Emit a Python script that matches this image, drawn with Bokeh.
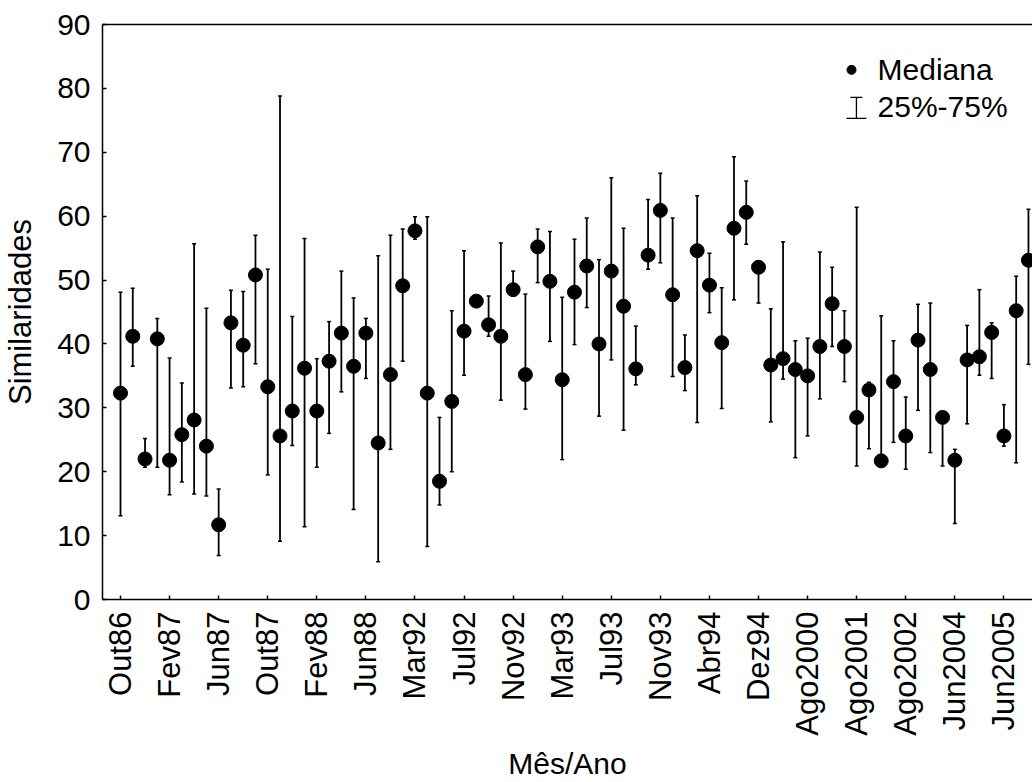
from bokeh.plotting import figure
from bokeh.models import (ColumnDataSource, Whisker, TeeHead, FixedTicker,
                          LinearAxis, Label, Range1d)
from bokeh.embed import file_html
from bokeh.resources import INLINE

# ---------------- data ----------------
tick_labels = ["Out86", "Fev87", "Jun87", "Out87", "Fev88", "Jun88", "Mar92",
               "Jul92", "Nov92", "Mar93", "Jul93", "Nov93", "Abr94", "Dez94",
               "Ago2000", "Ago2001", "Ago2002", "Jun2004", "Jun2005"]
tick_every = 4

median = [32.3, 41.2, 22.0, 40.8, 21.8, 25.8, 28.1, 24.0, 11.7, 43.3,
          39.8, 50.8, 33.3, 25.6, 29.5, 36.2, 29.5, 37.3, 41.7, 36.5,
          41.7, 24.5, 35.2, 49.1, 57.7, 32.3, 18.5, 31.0, 42.0, 46.7,
          43.0, 41.2, 48.5, 35.2, 55.2, 49.8, 34.4, 48.1, 52.2, 40.0,
          51.4, 45.9, 36.1, 53.9, 60.9, 47.7, 36.3, 54.6, 49.2, 40.2,
          58.1, 60.6, 52.0, 36.7, 37.7, 36.0, 35.0, 39.6, 46.3, 39.6,
          28.5, 32.8, 21.7, 34.1, 25.6, 40.6, 36.0, 28.5, 21.8, 37.5,
          38.0, 41.8, 25.6, 45.2, 53.1]
q25 = [13.1, 36.5, 20.7, 20.7, 16.4, 18.4, 16.5, 16.2, 6.9, 33.1,
       33.3, 36.9, 19.5, 9.1, 24.1, 11.4, 20.7, 26.0, 32.5, 14.1,
       34.6, 5.9, 23.5, 37.3, 56.4, 8.3, 14.8, 20.0, 35.1, 46.2,
       41.2, 31.2, 47.5, 29.8, 49.6, 40.4, 21.9, 39.9, 45.7, 28.7,
       37.5, 26.5, 33.6, 51.7, 52.7, 34.9, 32.7, 27.7, 44.9, 29.9,
       46.9, 55.6, 46.4, 27.8, 34.5, 22.2, 25.6, 31.4, 39.6, 34.1,
       20.9, 23.6, 21.3, 24.6, 20.4, 29.6, 23.0, 20.9, 11.9, 27.5,
       35.1, 34.6, 24.0, 21.4, 36.8]
q75 = [48.1, 48.7, 25.2, 44.0, 37.8, 33.9, 55.7, 45.6, 17.3, 48.4,
       48.2, 57.0, 51.7, 78.8, 44.3, 56.5, 37.7, 43.5, 51.4, 47.2,
       44.0, 53.8, 57.0, 58.0, 59.9, 59.9, 28.5, 45.2, 54.6, 47.2,
       47.5, 55.8, 51.4, 47.8, 58.0, 57.6, 47.3, 56.4, 59.7, 53.2,
       66.0, 58.1, 42.8, 62.6, 66.7, 59.7, 41.4, 63.2, 54.2, 48.8,
       69.3, 65.5, 52.5, 45.5, 56.0, 40.5, 40.9, 54.4, 52.0, 45.2,
       61.4, 34.0, 44.4, 40.5, 31.7, 46.2, 46.4, 29.0, 23.5, 42.9,
       48.5, 43.3, 30.5, 50.6, 61.1]
idx = list(range(len(median)))

FONT = "Liberation Sans"

src = ColumnDataSource(dict(x=idx, med=median, lo=q25, hi=q75))

p = figure(width=1032, height=782, output_backend="svg", toolbar_location=None,
           x_range=Range1d(-1.467, 74.33), y_range=Range1d(0, 90),
           min_border_left=102, min_border_right=0, min_border_top=24,
           min_border_bottom=0)
p.outline_line_color = None
p.grid.visible = False
p.background_fill_color = "white"
p.border_fill_color = "white"

# error bars (25%-75%)
wh = Whisker(source=src, base="x", lower="lo", upper="hi",
             line_color="black", line_width=1.8,
             upper_head=TeeHead(size=4, line_color="black", line_width=1.5),
             lower_head=TeeHead(size=4, line_color="black", line_width=1.5),
             level="glyph")
p.add_layout(wh)
# medians
p.scatter("x", "med", source=src, size=14, color="black")

# axes
xa = p.xaxis[0]
xa.ticker = FixedTicker(ticks=[i * tick_every for i in range(len(tick_labels))])
xa.major_label_overrides = {i * tick_every: lab for i, lab in enumerate(tick_labels)}
xa.major_label_orientation = 1.5707963
xa.axis_label = "Mês/Ano"
ya = p.yaxis[0]
ya.ticker = FixedTicker(ticks=list(range(0, 91, 10)))
ya.axis_label = "Similaridades"

for ax in (xa, ya):
    ax.axis_line_color = "black"
    ax.axis_line_width = 1.5
    ax.major_tick_in = 4
    ax.major_tick_out = 0
    ax.major_tick_line_color = "black"
    ax.major_tick_line_width = 1.5
    ax.minor_tick_line_color = None
    ax.major_label_text_font = FONT
    ax.major_label_text_color = "black"
    ax.axis_label_text_font = FONT
    ax.axis_label_text_font_style = "normal"
    ax.axis_label_text_color = "black"

xa.major_label_text_font_size = "31px"
xa.major_label_standoff = 12
xa.axis_label_text_font_size = "30px"
xa.axis_label_standoff = 8
ya.major_label_text_font_size = "30px"
ya.major_label_standoff = 12
ya.axis_label_text_font_size = "31px"
ya.axis_label_standoff = 16

top = LinearAxis(ticker=FixedTicker(ticks=[]), major_label_text_font_size="0px",
                 major_tick_line_color=None, minor_tick_line_color=None,
                 axis_line_color="black", axis_line_width=1.5,
                 major_label_standoff=0)
p.add_layout(top, "above")

# legend (drawn by hand, positions in data units)
LEG_X_DOT = 59.58
LEG_X_ICON = 59.98
LEG_X_TEXT = 61.7
LEG_Y1 = 82.9
LEG_Y2 = 77.2
p.scatter([LEG_X_DOT], [LEG_Y1], size=9, color="black")
leg_src = ColumnDataSource(dict(b=[LEG_X_ICON], lo=[75.3], hi=[78.6]))
p.add_layout(Whisker(source=leg_src, base="b", lower="lo", upper="hi",
                     line_color="black", line_width=1.3,
                     upper_head=TeeHead(size=12, line_color="black", line_width=1.3),
                     lower_head=TeeHead(size=20, line_color="black", line_width=1.3)))
for yy, txt in ((LEG_Y1, "Mediana"), (LEG_Y2, "25%-75%")):
    p.add_layout(Label(x=LEG_X_TEXT, y=yy, text=txt, text_font=FONT,
                       text_font_size="30px", text_baseline="middle",
                       text_color="black"))

open("out.html", "w").write(file_html(p, INLINE))
